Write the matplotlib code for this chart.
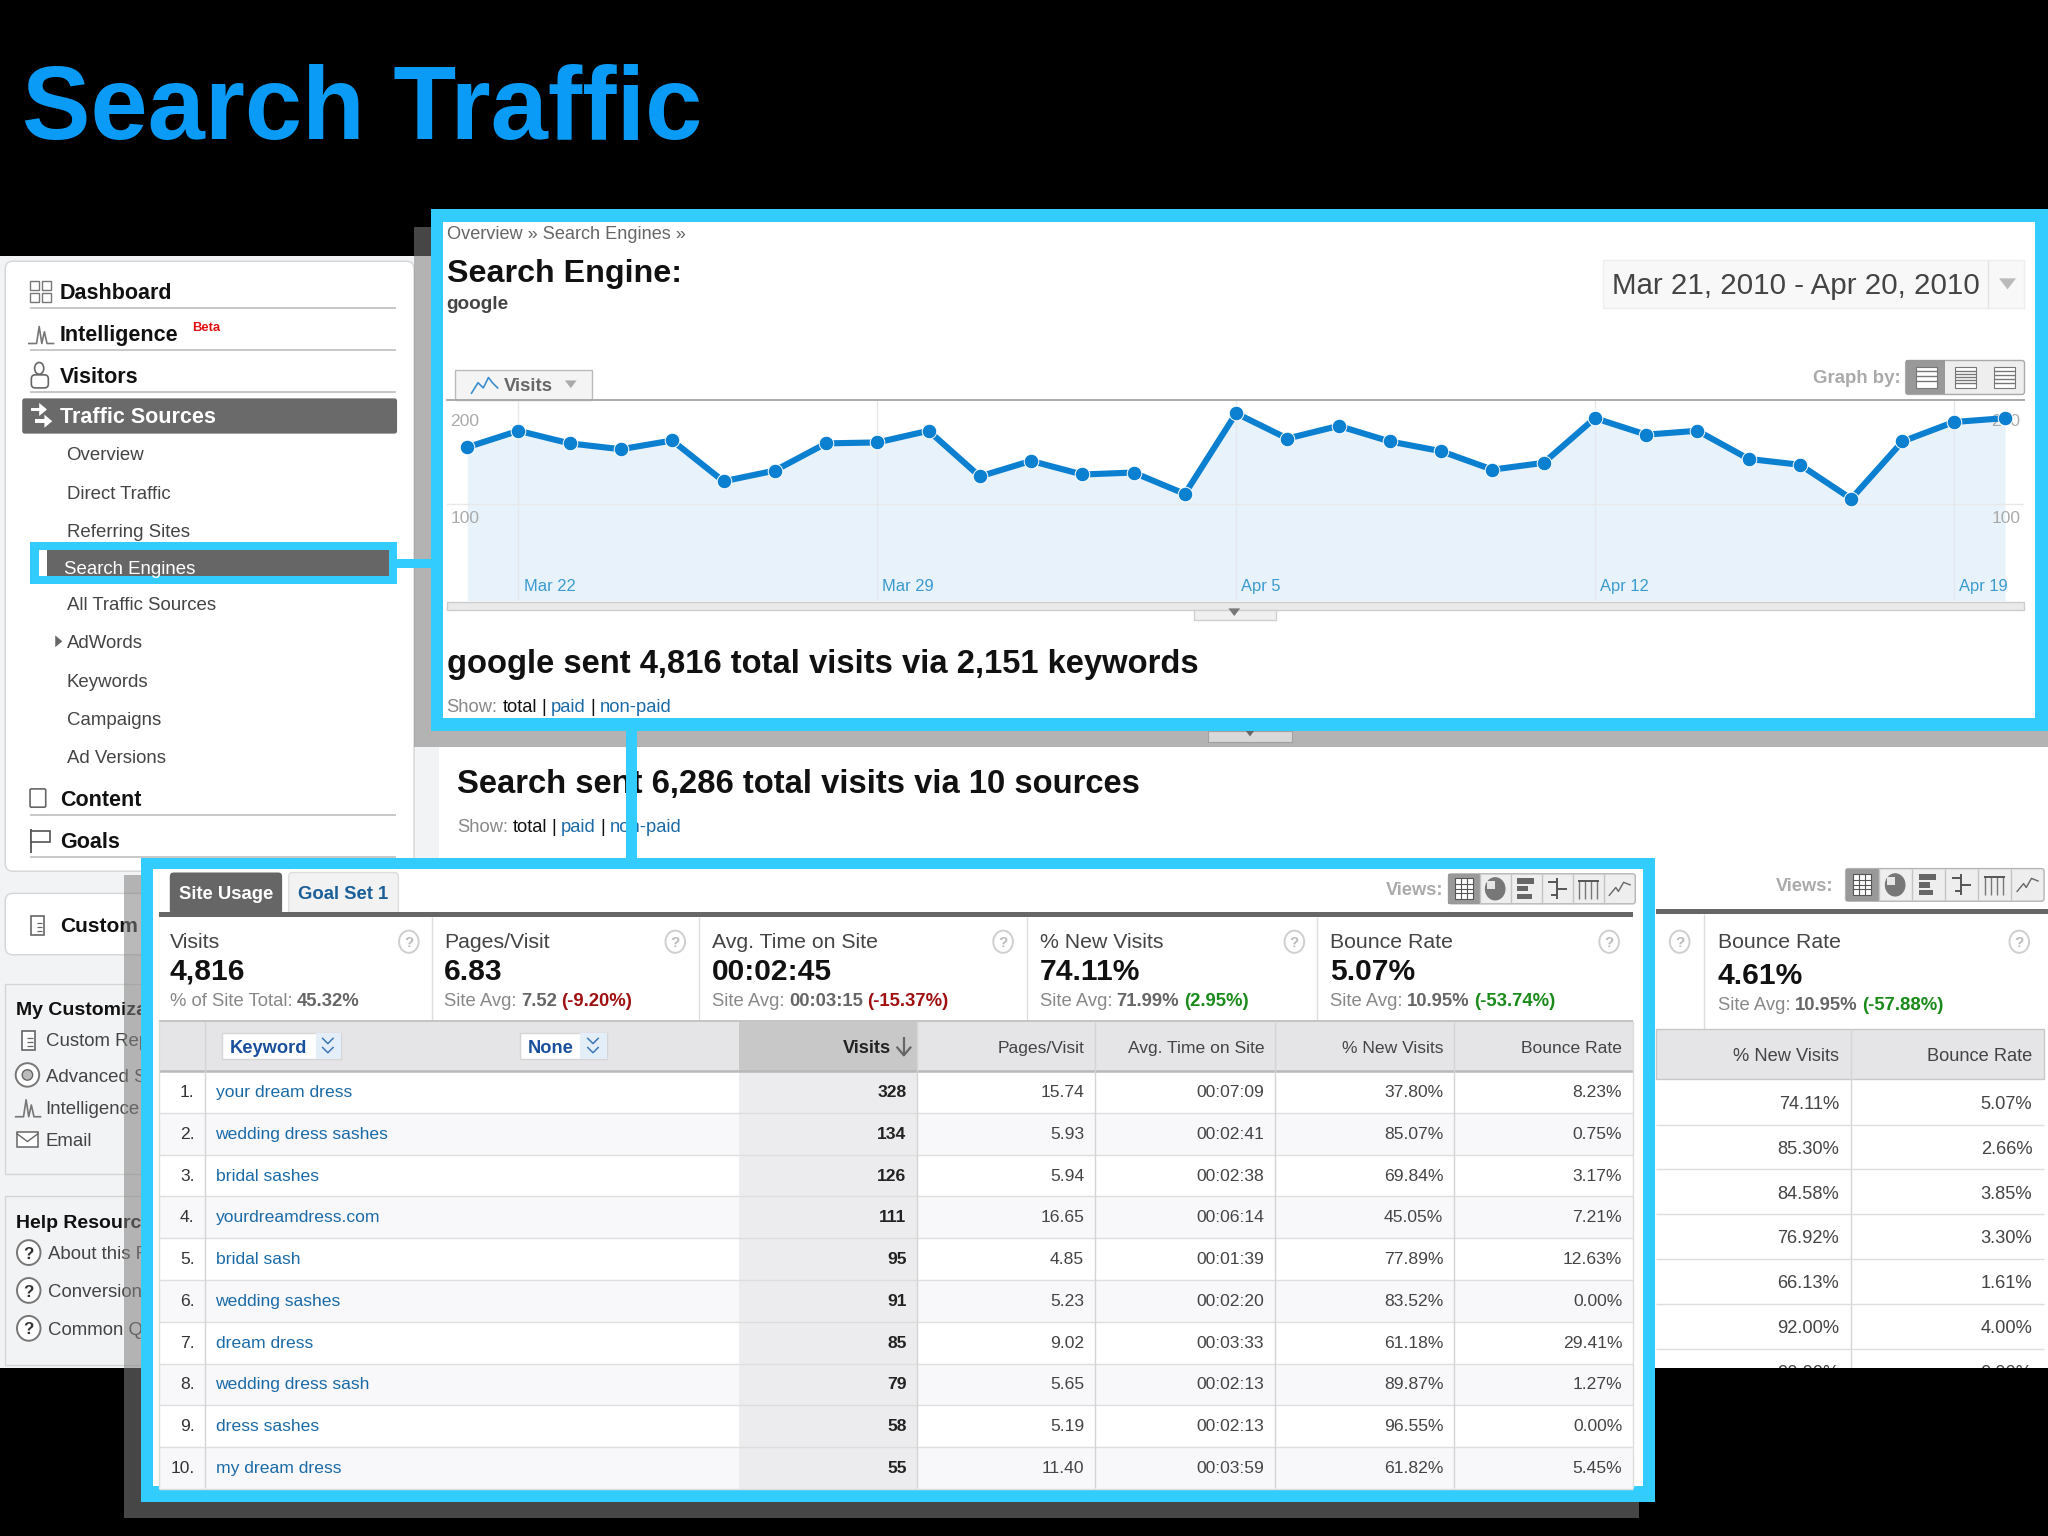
import matplotlib
matplotlib.use('Agg')
import matplotlib.pyplot as plt
from matplotlib.patches import Rectangle, FancyBboxPatch, Ellipse, Polygon

# chart values
visits_daily = [158, 175, 162, 156, 165, 123, 134, 162, 163, 175, 128, 144, 130, 132, 110, 193,
                167, 180, 164, 154, 135, 142, 188, 171, 175, 146, 140, 105, 164, 184, 188]
week_index = [1, 8, 15, 22, 29]
week_labels = ['Mar 22', 'Mar 29', 'Apr 5', 'Apr 12', 'Apr 19']
y_ticks = [100, 200]

# keyword table
keywords = ['your dream dress', 'wedding dress sashes', 'bridal sashes', 'yourdreamdress.com', 'bridal sash',
            'wedding sashes', 'dream dress', 'wedding dress sash', 'dress sashes', 'my dream dress']
kw_visits = ['328', '134', '126', '111', '95', '91', '85', '79', '58', '55']
kw_pages = ['15.74', '5.93', '5.94', '16.65', '4.85', '5.23', '9.02', '5.65', '5.19', '11.40']
kw_time = ['00:07:09', '00:02:41', '00:02:38', '00:06:14', '00:01:39', '00:02:20', '00:03:33', '00:02:13', '00:02:13', '00:03:59']
kw_new = ['37.80%', '85.07%', '69.84%', '45.05%', '77.89%', '83.52%', '61.18%', '89.87%', '96.55%', '61.82%']
kw_bounce = ['8.23%', '0.75%', '3.17%', '7.21%', '12.63%', '0.00%', '29.41%', '1.27%', '0.00%', '5.45%']

# the table hidden behind
back_new = ['74.11%', '85.30%', '84.58%', '76.92%', '66.13%', '92.00%', '90.00%']
back_bounce = ['5.07%', '2.66%', '3.85%', '3.30%', '1.61%', '4.00%', '0.00%']

# sidebar
side_main = ['Dashboard', 'Intelligence', 'Visitors', 'Content', 'Goals']
side_main_y = [223, 255, 287, 611, 643]
side_sub = ['Overview', 'Direct Traffic', 'Referring Sites', 'All Traffic Sources', 'AdWords', 'Keywords', 'Campaigns', 'Ad Versions']
side_sub_y = [347, 377, 406, 462, 491, 521, 550, 579]

BLUE = '#33ccff'
LINK = '#1a6aa8'
W, H = 1568, 1176
SCALE = 2048 / W

plt.rcParams['font.family'] = ['Liberation Sans', 'DejaVu Sans']
fig = plt.figure(figsize=(20.48, 15.36), dpi=100, facecolor='black')
bg = fig.add_axes([0, 0, 1, 1])
bg.set_xlim(0, W)
bg.set_ylim(H, 0)
bg.axis('off')
renderer = fig.canvas.get_renderer()

z = [1]
def nextz():
    z[0] += 1
    return z[0]

def rect(x0, y0, x1, y1, fc, ec='none', lw=0, alpha=None):
    bg.add_patch(Rectangle((x0, y0), x1 - x0, y1 - y0, fc=fc, ec=ec, lw=lw, alpha=alpha, zorder=nextz()))

def rrect(x0, y0, x1, y1, fc, ec='#cccccc', lw=1, r=5):
    bg.add_patch(FancyBboxPatch((x0 + r, y0 + r), x1 - x0 - 2 * r, y1 - y0 - 2 * r, boxstyle='round,pad=%d' % r,
                                fc=fc, ec=ec, lw=lw, zorder=nextz()))

def line(x0, y0, x1, y1, c='#cccccc', lw=1.0):
    bg.plot([x0, x1], [y0, y1], color=c, lw=lw, zorder=nextz(), solid_capstyle='butt')

def txt(x, y, s, px=13.4, c='#444444', w='normal', ha='left'):
    # y is the middle of the capitals, px the font size in units of this canvas
    return bg.text(x, y + 0.36 * px, s, fontsize=px * SCALE * 0.72, color=c, fontweight=w, ha=ha, va='baseline', zorder=nextz())

def runs(x, y, parts, px=14.2):
    for s, c, w in parts:
        t = txt(x, y, s, px, c, w)
        x += t.get_window_extent(renderer).width / SCALE + 3.5

def tri(x, y, size, c='#999999', down=True):
    if down:
        pts = [(x - size, y - size * 0.6), (x + size, y - size * 0.6), (x, y + size * 0.7)]
    else:
        pts = [(x - size * 0.6, y - size), (x - size * 0.6, y + size), (x + size * 0.6, y)]
    bg.add_patch(Polygon(pts, fc=c, ec='none', zorder=nextz()))

def qmark(x, y):
    bg.add_patch(Ellipse((x, y), 15, 17, fc='white', ec='#cfcfcf', lw=1.4, zorder=nextz()))
    txt(x, y, '?', 11.5, '#bbbbbb', 'bold', 'center')

def qhelp(x, y):
    bg.add_patch(Ellipse((x, y), 18, 19, fc='white', ec='#777777', lw=1.4, zorder=nextz()))
    txt(x, y, '?', 13, '#333333', 'bold', 'center')

def doc_icon(x, y):
    rect(x - 5, y - 7, x + 5, y + 8, 'white', '#666666', 1.2)
    for dy in (-1, 2, 5):
        line(x - 1, y + dy, x + 3, y + dy, '#666666', 0.9)

def spark(x, y, c='#777777', lw=1.2):
    bg.plot([x, x + 6, x + 8, x + 10, x + 12, x + 14, x + 19], [y + 7, y + 7, y - 6, y + 7, y - 2, y + 7, y + 7],
            color=c, lw=lw, zorder=nextz())

def view_buttons(x0, y0, x1, y1):
    rrect(x0, y0, x1, y1, '#eeeeee', '#b5b5b5', 1, 2)
    cw = (x1 - x0) / 6
    rect(x0, y0, x0 + cw, y1, '#999999')
    ym = (y0 + y1) / 2
    for i in range(1, 6):
        line(x0 + i * cw, y0, x0 + i * cw, y1, '#c4c4c4', 1)
    # grid, pie, bars, pivot, compare, trend
    cx = x0 + cw / 2
    rect(cx - 7, ym - 8, cx + 7, ym + 8, 'white', '#555555', 0.8)
    for k in (-3.5, 0, 3.5):
        line(cx - 7, ym + k, cx + 7, ym + k, '#555555', 0.8)
    for k in (-2.5, 2.5):
        line(cx + k, ym - 8, cx + k, ym + 8, '#555555', 0.8)
    cx = x0 + 1.5 * cw
    bg.add_patch(Ellipse((cx, ym), 15, 17, fc='#777777', ec='#777777', lw=0.8, zorder=nextz()))
    rect(cx - 6, ym - 6, cx, ym, '#e6e6e6')
    cx = x0 + 2.5 * cw
    for k, l in ((-6, 13), (0, 8), (6, 11)):
        rect(cx - 7, ym + k - 2, cx - 7 + l, ym + k + 2, '#666666')
    cx = x0 + 3.5 * cw
    line(cx, ym - 8, cx, ym + 8, '#555555', 1.4)
    for k, a, b in ((-5, -7, 0), (0, 0, 7), (5, -5, 0)):
        line(cx + a, ym + k, cx + b, ym + k, '#555555', 1.4)
    cx = x0 + 4.5 * cw
    for k in (-6, -3, 0, 3):
        line(cx + k * 1.6 + 2, ym - 6, cx + k * 1.6 + 2, ym + 8, '#777777', 1)
    line(cx - 8, ym - 6, cx + 8, ym - 6, '#555555', 1.4)
    cx = x0 + 5.5 * cw
    bg.plot([cx - 8, cx - 3, cx - 1, cx + 3, cx + 8], [ym + 5, ym - 1, ym + 2, ym - 5, ym - 3], color='#666666', lw=1, zorder=nextz())

# title
txt(17, 78, 'Search Traffic', 78.8, '#0a9bf6', 'bold')

# screenshot behind
rect(0, 196, W, 1047, '#f2f3f5')
rect(336, 572, W, 1047, 'white')
rrect(4, 200, 317, 667, 'white', '#d5d5d5', 1, 6)
for i, (s, y) in enumerate(zip(side_main, side_main_y)):
    txt(46, y, s, 16.5, '#111111', 'bold')
    line(23, y + 13, 303, y + 13, '#c8c8c8', 1.4)
line(23, 300, 303, 300, '#c8c8c8', 1.4)
txt(147, 250, 'Beta', 10, '#e01010', 'bold')
for i in (0, 1):
    for j in (0, 1):
        rect(23 + i * 9, 215 + j * 9, 30 + i * 9, 222 + j * 9, 'white', '#777777', 1)
spark(22, 256)
bg.add_patch(Ellipse((30, 282), 7, 9, fc='white', ec='#666666', lw=1.2, zorder=nextz()))
rrect(24, 287, 37, 297, 'white', '#666666', 1.2, 3)
rrect(23, 604, 35, 618, 'white', '#666666', 1.2, 1)
line(24, 635, 24, 653, '#555555', 1.3)
bg.add_patch(Polygon([(24, 636), (38, 636), (38, 645), (24, 645)], fc='white', ec='#555555', lw=1.2, zorder=nextz()))
rrect(17, 305, 304, 332, '#6a6a6a', 'none', 0, 2)
txt(46, 318, 'Traffic Sources', 16.5, 'white', 'bold')
rect(24, 312, 31, 315, 'white')
tri(33, 313.5, 5, 'white', False)
rect(27, 321, 35, 324, 'white')
tri(37, 322.5, 5, 'white', False)
for s, y in zip(side_sub, side_sub_y):
    txt(51, y, s, 14.3, '#444444')
tri(45, 491, 4.5, '#666666', False)

rrect(4, 684, 200, 731, 'white', '#d5d5d5', 1, 6)
doc_icon(29, 708)
txt(46, 708, 'Custom', 16, '#111111', 'bold')
rect(4, 753, 140, 899, '#f2f3f5', '#d5d5d5', 1)
txt(12, 772, 'My Customiza', 14.9, '#111111', 'bold')
doc_icon(22, 796)
txt(35, 796, 'Custom Rep', 14.3)
bg.add_patch(Ellipse((21, 823), 18, 18, fc='white', ec='#777777', lw=1.4, zorder=nextz()))
bg.add_patch(Ellipse((21, 823), 8, 8, fc='#bbbbbb', ec='#666666', lw=1, zorder=nextz()))
txt(35, 823, 'Advanced S', 14.3)
spark(12, 848)
txt(35, 848, 'Intelligence', 14.3)
rect(13, 867, 29, 878, 'white', '#666666', 1.1)
bg.plot([13, 21, 29], [868, 874, 868], color='#666666', lw=1, zorder=nextz())
txt(35, 872, 'Email', 14.3)
rect(4, 916, 140, 1045, '#f2f3f5', '#d5d5d5', 1)
txt(12, 935, 'Help Resourc', 14.9, '#111111', 'bold')
qhelp(22, 959)
txt(37, 959, 'About this R', 14.3)
qhelp(22, 988)
txt(37, 988, 'Conversion', 14.3)
qhelp(22, 1017)
txt(37, 1017, 'Common Qu', 14.3)

# lower right part of the page behind the boxes
txt(350, 598, 'Search sent 6,286 total visits via 10 sources', 25.1, '#111111', 'bold')
runs(350, 632, [('Show:', '#888888', 'normal'), ('total', '#111111', 'normal'), ('|', '#111111', 'normal'),
                ('paid', LINK, 'normal'), ('|', '#111111', 'normal'), ('non-paid', LINK, 'normal')], 14.1)
txt(1360, 677, 'Views:', 14, '#aaaaaa', 'bold')
view_buttons(1413, 665, 1565, 690)
rect(1268, 696, W, 700, '#666666')
qmark(1286, 721)
qmark(1546, 721)
line(1305, 700, 1305, 788, '#dddddd', 1)
txt(1315, 720, 'Bounce Rate', 16.3, '#444444')
txt(1315, 745, '4.61%', 23, '#111111', 'bold')
runs(1315, 768, [('Site Avg:', '#888888', 'normal'), ('10.95%', '#666666', 'bold'), ('(-57.88%)', '#1a8a1a', 'bold')])
rect(1268, 788, 1565, 826, '#e5e5e7', '#c8c8c8', 1)
line(1417, 788, 1417, 1047, '#d5d5d5', 1)
txt(1408, 807, '% New Visits', 14, '#444444', ha='right')
txt(1556, 807, 'Bounce Rate', 14, '#444444', ha='right')
for i in range(len(back_new)):
    y = 844 + 34.3 * i
    txt(1408, y, back_new[i], 14, '#444444', ha='right')
    txt(1556, y, back_bounce[i], 14, '#444444', ha='right')
    line(1268, y + 17, 1565, y + 17, '#dddddd', 1)

rect(0, 1047, W, H, 'black')

# shadows of the blue boxes
rect(317, 174, W, 572, '#808080', alpha=0.55)
rect(925, 560, 989, 568, '#d8d8d8', '#a0a0a0', 0.8)
tri(957, 561, 4, '#666666')
rect(95, 670, 1255, 1162, '#808080', alpha=0.55)

# sidebar highlight and connectors
rect(23, 415, 304, 447, BLUE)
rect(30, 421, 36, 441, 'white')
rect(36, 421, 298, 441, '#666666')
txt(49, 434, 'Search Engines', 14.3, 'white')
rect(304, 428, 332, 435, BLUE)
rect(479, 556, 488, 660, BLUE)

# upper box
rect(330, 160, W, 560, BLUE)
rect(339, 170, 1558, 550, 'white')
txt(342, 178, 'Overview » Search Engines »', 13.9, '#666666')
txt(342, 207, 'Search Engine:', 24.7, '#111111', 'bold')
txt(342, 231, 'google', 14.6, '#444444', 'bold')
rect(1227, 199, 1550, 236, '#f8f8f8', '#eeeeee', 1)
line(1522, 199, 1522, 236, '#e4e4e4', 1)
txt(1234, 217, 'Mar 21, 2010 - Apr 20, 2010', 22.6, '#444444')
tri(1537, 217, 6.5, '#bbbbbb')
rect(348, 283, 453, 306, '#f4f4f4', '#bbbbbb', 1)
bg.plot([361, 366, 370, 374, 377, 381], [301, 293, 297, 289, 293, 297], color='#3b8fd0', lw=1.2, zorder=nextz())
txt(386, 294, 'Visits', 14.3, '#666666', 'bold')
tri(437, 294, 4.5, '#aaaaaa')
txt(1455, 288, 'Graph by:', 14.3, '#aaaaaa', 'bold', 'right')
rrect(1459, 276, 1550, 302, '#eeeeee', '#aaaaaa', 1, 2)
rect(1459, 276, 1489, 302, '#999999')
for xc, n in ((1475, 3), (1505, 5), (1535, 4)):
    rect(xc - 8, 281, xc + 8, 297, 'white', '#777777', 0.8)
    for k in range(n):
        line(xc - 8, 284 + k * 12 / n, xc + 8, 284 + k * 12 / n, '#777777', 1)
rect(342, 461, 1550, 467, '#eaeaea', '#cccccc', 1)
rect(914, 467, 977, 475, '#f0f0f0', '#d0d0d0', 1)
tri(945, 468.5, 4.5, '#777777')
txt(342, 506, 'google sent 4,816 total visits via 2,151 keywords', 25.1, '#111111', 'bold')
runs(342, 540, [('Show:', '#888888', 'normal'), ('total', '#111111', 'normal'), ('|', '#111111', 'normal'),
                ('paid', LINK, 'normal'), ('|', '#111111', 'normal'), ('non-paid', LINK, 'normal')], 14.1)

# lower box
rect(108, 657, 1267, 1150, BLUE)
rect(117, 665, 1258, 1138, 'white')
rrect(130, 668, 216, 700, '#666666', 'none', 0, 3)
txt(137, 683, 'Site Usage', 14.2, 'white', 'bold')
rrect(221, 668, 305, 700, '#f2f2f2', '#dddddd', 1, 3)
txt(228, 683, 'Goal Set 1', 14.2, '#1a5f98', 'bold')
txt(1105, 680, 'Views:', 14, '#aaaaaa', 'bold', 'right')
view_buttons(1109, 669, 1252, 692)
rect(122, 698, 1250, 702, '#666666')

sx = [130, 340, 545, 796, 1018]
qx = [313, 517, 768, 991, 1232]
stitle = ['Visits', 'Pages/Visit', 'Avg. Time on Site', '% New Visits', 'Bounce Rate']
svalue = ['4,816', '6.83', '00:02:45', '74.11%', '5.07%']
ssub = [('% of Site Total:', '45.32%', ''), ('Site Avg:', '7.52', '(-9.20%)'), ('Site Avg:', '00:03:15', '(-15.37%)'),
        ('Site Avg:', '71.99%', '(2.95%)'), ('Site Avg:', '10.95%', '(-53.74%)')]
scolor = ['#a01010', '#a01010', '#a01010', '#1a8a1a', '#1a8a1a']
for i in range(5):
    txt(sx[i], 720, stitle[i], 16.3, '#444444')
    txt(sx[i], 742, svalue[i], 23, '#111111', 'bold')
    parts = [(ssub[i][0], '#888888', 'normal'), (ssub[i][1], '#666666', 'bold')]
    if ssub[i][2]:
        parts.append((ssub[i][2], scolor[i], 'bold'))
    runs(sx[i], 765, parts)
    qmark(qx[i], 721)
for x in (331, 535, 786, 1008):
    line(x, 702, x, 782, '#dddddd', 1)

# table
top, step = 820, 32
rect(122, 782, 1250, 820, '#e5e5e7')
rect(566, 782, 702, 820, '#c8c8c9')
for i in range(len(keywords)):
    y0 = top + step * i
    if i % 2:
        rect(122, y0, 1250, y0 + step, '#f8f8fa')
    rect(566, y0, 702, y0 + step, '#ececee')
for i in range(len(keywords)):
    y0 = top + step * i
    line(122, y0 + step, 1250, y0 + step, '#dedede', 1)
    yc = y0 + step / 2 - 1
    txt(149, yc, '%d.' % (i + 1), 13.4, '#333333', ha='right')
    txt(165, yc, keywords[i], 13.4, LINK)
    txt(694, yc, kw_visits[i], 13.4, '#222222', 'bold', 'right')
    txt(830, yc, kw_pages[i], 13.4, '#444444', ha='right')
    txt(968, yc, kw_time[i], 13.4, '#444444', ha='right')
    txt(1105, yc, kw_new[i], 13.4, '#444444', ha='right')
    txt(1242, yc, kw_bounce[i], 13.4, '#444444', ha='right')
line(122, 782, 1250, 782, '#c4c4c4', 1.4)
line(122, 820, 1250, 820, '#b8b8b8', 1.8)
line(122, 782, 122, 1139, '#dddddd', 1)
line(1250, 782, 1250, 1139, '#dddddd', 1)
for x in (157, 702, 838, 976, 1113):
    line(x, 782, x, 1139, '#d4d4d4', 1)

rect(170, 791, 261, 811, 'white', '#d5d5d5', 1)
rect(242, 791, 261, 811, '#e4eef8')
txt(176, 801, 'Keyword', 14, '#1a4f9c', 'bold')
rect(398, 791, 465, 811, 'white', '#d5d5d5', 1)
rect(444, 791, 465, 811, '#e4eef8')
txt(404, 801, 'None', 14, '#1a4f9c', 'bold')
for xc in (251, 454):
    for yy in (797, 804):
        bg.plot([xc - 4, xc, xc + 4], [yy - 2, yy + 2, yy - 2], color='#3c78b8', lw=1.1, zorder=nextz())
txt(682, 801, 'Visits', 14, '#222222', 'bold', 'right')
line(692, 794, 692, 808, '#666666', 1.6)
bg.plot([687, 692, 697], [802, 808, 802], color='#666666', lw=1.6, zorder=nextz())
txt(830, 801, 'Pages/Visit', 13.4, '#444444', ha='right')
txt(968, 801, 'Avg. Time on Site', 13.4, '#444444', ha='right')
txt(1105, 801, '% New Visits', 13.4, '#444444', ha='right')
txt(1242, 801, 'Bounce Rate', 13.4, '#444444', ha='right')

# the graph, on its own axes
x_l, x_r, y_t, y_b = 342, 1550, 306, 460
ax = fig.add_axes([x_l / W, 1 - y_b / H, (x_r - x_l) / W, (y_b - y_t) / H], zorder=5)
ax.patch.set_alpha(0)
days = list(range(len(visits_daily)))
ax.set_xlim(-0.4, 30.38)
ax.set_ylim(0, 207)
for s in ('left', 'right', 'bottom'):
    ax.spines[s].set_visible(False)
ax.spines['top'].set_color('#aaaaaa')
ax.spines['top'].set_linewidth(1.4)
ax.set_xticks([])
ax.set_yticks([])
ax.fill_between(days, visits_daily, 0, color='#e8f2fb', lw=0, zorder=1)
ax.axhline(y_ticks[0], color='#e8e8e8', lw=1, zorder=2)
for v in y_ticks:
    ax.text(-0.33, v - 15, str(v), fontsize=13.4 * SCALE * 0.72, color='#aaaaaa', va='center', ha='left', zorder=2)
    ax.text(30.3, v - 15, str(v), fontsize=13.4 * SCALE * 0.72, color='#aaaaaa', va='center', ha='right', zorder=2)
for i, lab in zip(week_index, week_labels):
    ax.axvline(i, color='#e6e9ec', lw=1, zorder=2)
    ax.text(i + 0.1, 15, lab, fontsize=12.6 * SCALE * 0.72, color='#3a9bd0', va='center', ha='left', zorder=2)
ax.plot(days, visits_daily, color='#0b7fd0', lw=4.4, marker='o', ms=10.5, mec='white', mew=0.7, zorder=3, clip_on=False)

fig.savefig('out.png', dpi=100, facecolor='black')
